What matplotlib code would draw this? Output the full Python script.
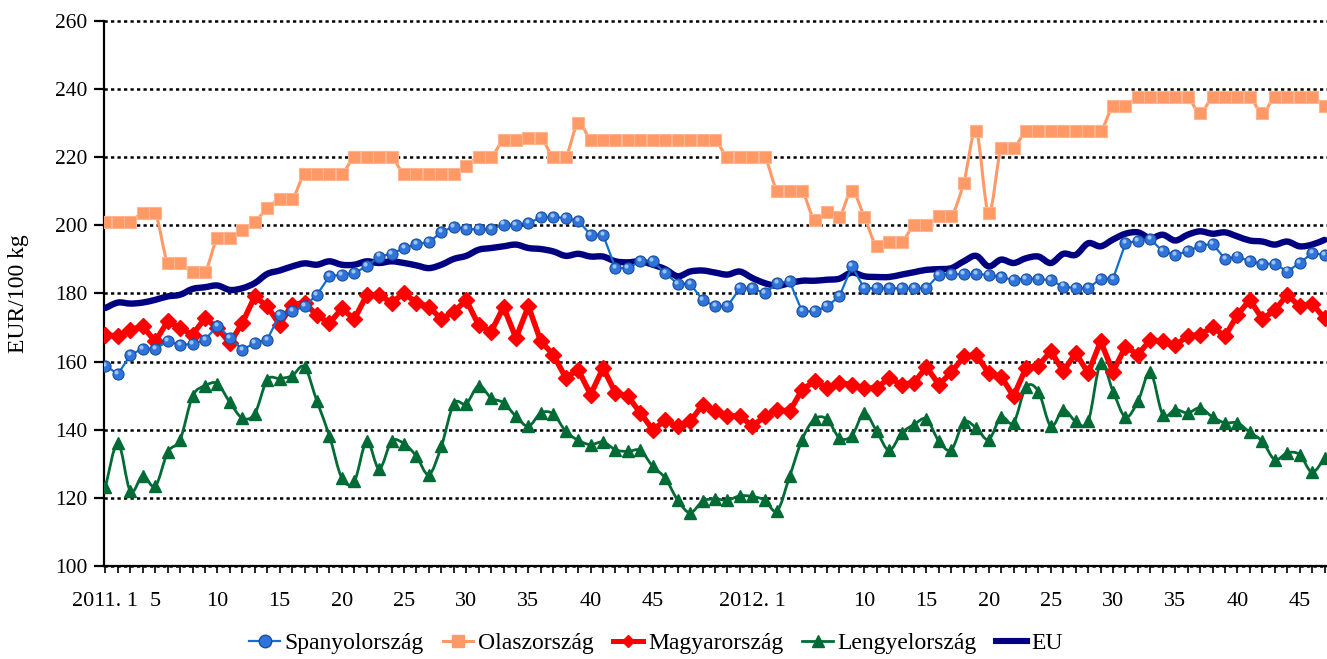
import numpy as np
import matplotlib
matplotlib.use("Agg")
import matplotlib.pyplot as plt
from matplotlib.path import Path
from matplotlib.patches import PathPatch
from matplotlib.lines import Line2D

plt.rcParams['font.family'] = ['Liberation Serif', 'DejaVu Serif']

# ---- data -------------------------------------------------------------
weeks_2011 = list(range(1, 53))
weeks_2012 = list(range(1, 48))
categories = [f"2011. {w}" if w == 1 else str(w) for w in weeks_2011] + \
             [f"2012. {w}" if w == 1 else str(w) for w in weeks_2012]
shown_2011 = [1, 5, 10, 15, 20, 25, 30, 35, 40, 45]
shown_2012 = [1, 10, 15, 20, 25, 30, 35, 40, 45]

spanyol = [158.8, 156.3, 161.9, 163.8, 163.8, 165.9, 164.9, 165.1, 166.4, 170.5,
           167.0, 163.5, 165.4, 166.4, 173.7, 174.7, 176.2, 179.6, 185.0, 185.5,
           186.0, 187.9, 190.8, 191.6, 193.3, 194.4, 195.0, 198.0, 199.6, 198.8,
           198.8, 198.8, 200.2, 200.1, 200.6, 202.3, 202.4, 202.1, 201.3, 197.2,
           197.2, 187.4, 187.4, 189.4, 189.4, 185.9, 182.8, 182.8, 178.1, 176.2,
           176.2, 181.5, 181.5, 180.0, 183.0, 183.5, 174.7, 174.7, 176.2, 179.1,
           187.9, 181.5, 181.5, 181.5, 181.5, 181.5, 181.5, 185.5, 185.6, 185.6,
           185.6, 185.5, 184.7, 184.0, 184.3, 184.3, 183.8, 182.0, 181.5, 181.5,
           184.3, 184.3, 194.7, 195.4, 195.9, 192.3, 191.3, 192.3, 194.0, 194.5,
           190.1, 190.8, 189.4, 188.7, 188.7, 186.4, 188.9, 191.8, 191.3]

olasz = [201.0, 201.0, 201.0, 203.7, 203.7, 188.9, 188.9, 186.2, 186.2, 196.2,
         196.2, 198.6, 201.0, 204.9, 207.6, 207.6, 215.0, 215.0, 215.0, 215.0,
         220.0, 220.0, 220.0, 220.0, 215.0, 215.0, 215.0, 215.0, 215.0, 217.4,
         220.0, 220.0, 225.0, 225.0, 225.7, 225.7, 220.0, 220.0, 230.0, 225.0,
         225.0, 225.0, 225.0, 225.0, 225.0, 225.0, 225.0, 225.0, 225.0, 225.0,
         220.0, 220.0, 220.0, 220.0, 210.0, 210.0, 210.0, 201.6, 203.8, 202.5,
         210.0, 202.5, 193.8, 195.0, 195.0, 200.0, 200.0, 202.6, 202.6, 212.5,
         227.5, 203.5, 222.6, 222.6, 227.5, 227.5, 227.5, 227.5, 227.5, 227.5,
         227.5, 235.0, 235.0, 237.6, 237.6, 237.6, 237.6, 237.6, 232.9, 237.6,
         237.6, 237.6, 237.6, 232.9, 237.6, 237.6, 237.6, 237.6, 235.0]

magyar = [167.9, 167.4, 169.3, 170.3, 165.9, 171.8, 169.8, 167.9, 172.7, 169.8,
          165.4, 171.3, 179.1, 176.2, 170.8, 176.7, 177.2, 173.6, 171.2, 175.6,
          172.4, 179.5, 179.5, 177.3, 180.0, 177.3, 176.1, 172.4, 174.6, 178.0,
          170.7, 168.7, 176.0, 166.9, 176.2, 165.9, 162.0, 155.2, 157.6, 150.3,
          158.1, 150.8, 149.8, 144.9, 140.0, 142.7, 141.0, 142.4, 147.3, 145.6,
          143.9, 144.1, 141.0, 143.9, 145.9, 145.4, 151.7, 154.2, 152.2, 153.7,
          153.2, 152.2, 152.2, 155.2, 153.2, 153.8, 158.4, 153.2, 156.8, 161.5,
          162.0, 156.6, 155.6, 149.8, 158.1, 158.8, 163.0, 157.1, 162.5, 156.6,
          165.9, 157.0, 164.4, 162.0, 166.4, 165.9, 164.7, 167.5, 167.9, 170.1,
          167.4, 173.7, 178.1, 172.5, 175.0, 179.6, 176.2, 177.0, 172.7]

lengyel = [123.2, 136.1, 121.9, 126.5, 123.4, 133.4, 137.1, 149.8, 152.9, 153.5,
           148.0, 143.4, 144.7, 154.6, 155.0, 155.8, 158.4, 148.3, 138.2, 125.8,
           124.8, 136.6, 128.5, 136.6, 135.9, 132.2, 126.8, 135.1, 147.6, 147.6,
           152.9, 149.3, 147.9, 143.9, 141.0, 144.9, 144.6, 139.5, 136.9, 135.6,
           136.4, 134.1, 133.6, 133.9, 129.2, 125.8, 119.3, 115.6, 119.0, 119.7,
           119.3, 120.6, 120.4, 119.3, 116.2, 126.3, 137.1, 143.1, 143.1, 137.6,
           138.2, 144.9, 139.5, 133.9, 139.0, 141.5, 143.1, 136.6, 134.1, 142.2,
           140.5, 137.1, 143.7, 142.0, 152.5, 151.2, 141.0, 145.9, 142.4, 142.4,
           159.5, 151.2, 143.7, 148.3, 156.8, 144.4, 145.9, 144.9, 146.4, 143.7,
           142.0, 142.0, 139.2, 136.6, 131.2, 133.2, 132.7, 127.5, 131.7]

eu = [175.7, 177.3, 177.0, 177.3, 178.1, 179.1, 179.6, 181.3, 181.8, 182.3,
      181.0, 181.5, 183.0, 185.7, 186.7, 187.9, 188.8, 188.4, 189.4, 188.4,
      188.4, 189.4, 188.9, 189.4, 188.9, 188.2, 187.4, 188.4, 190.1, 191.0,
      192.8, 193.3, 193.8, 194.3, 193.3, 193.0, 192.3, 191.0, 191.6, 190.8,
      190.8, 189.4, 189.1, 189.4, 188.4, 187.1, 185.0, 186.4, 186.7, 186.1,
      185.5, 186.4, 184.5, 183.0, 182.2, 183.0, 183.7, 183.7, 184.0, 184.3,
      186.1, 185.0, 184.8, 184.8, 185.5, 186.2, 186.9, 187.1, 187.4, 189.4,
      191.0, 187.9, 189.9, 188.9, 190.3, 190.8, 188.9, 191.6, 191.3, 194.7,
      193.8, 195.8, 197.5, 197.9, 196.2, 197.2, 195.5, 197.2, 198.2, 197.5,
      197.9, 196.7, 195.5, 195.2, 194.3, 195.2, 193.8, 194.3, 195.7]

series_names = ["Spanyolország", "Olaszország", "Magyarország", "Lengyelország", "EU"]

# ---- helpers -----------------------------------------------------------
def smooth_path(x, y):
    pts = np.column_stack([x, y]).astype(float)
    n = len(pts)
    verts = [pts[0]]
    codes = [Path.MOVETO]
    for i in range(n - 1):
        p0 = pts[i - 1] if i > 0 else pts[i]
        p1 = pts[i]
        p2 = pts[i + 1]
        p3 = pts[i + 2] if i + 2 < n else pts[i + 1]
        verts += [p1 + (p2 - p0) / 6.0, p2 - (p3 - p1) / 6.0, p2]
        codes += [Path.CURVE4] * 3
    return Path(verts, codes)

# ---- figure -------------------------------------------------------------
fig = plt.figure(figsize=(13.27, 6.59), dpi=100)
ax = fig.add_axes([104 / 1327, 1 - 566 / 659, 1 - 104 / 1327, (566 - 20.7) / 659])

x = np.arange(len(categories))

# EU (smooth, thick navy)
ax.add_patch(PathPatch(smooth_path(x, eu), fill=False, edgecolor='#000080', lw=4.6,
                       capstyle='round', joinstyle='round', zorder=3))
# Lengyelország (smooth)
ax.add_patch(PathPatch(smooth_path(x, lengyel), fill=False, edgecolor='#006B35', lw=2.0,
                       capstyle='round', joinstyle='round', zorder=4))
ax.plot(x, lengyel, linestyle='none', marker='^', markersize=8,
        markerfacecolor='#006B35', markeredgecolor='#006B35', zorder=4.1)
# Olaszország (smooth)
ax.add_patch(PathPatch(smooth_path(x, olasz), fill=False, edgecolor='#FF9966', lw=2.2,
                       capstyle='round', joinstyle='round', zorder=4))
ax.plot(x, olasz, linestyle='none', marker='s', markersize=8.5,
        markerfacecolor='#FF9966', markeredgecolor='#FFB690', markeredgewidth=0.8, zorder=4.1)
# Magyarország
ax.plot(x, magyar, color='#FF0000', lw=4.0, marker='D', markersize=8,
        markerfacecolor='#FF0000', markeredgecolor='#FF0000', zorder=5,
        solid_joinstyle='miter')
# Spanyolország
ax.plot(x, spanyol, color='#1170CF', lw=1.6, zorder=6)
ax.plot(x, spanyol, linestyle='none', marker='o', markersize=8,
        markerfacecolor='#2E74DA', markeredgecolor='#1B4E9E', markeredgewidth=0.8, zorder=6.1)
ax.plot(x - 0.12, np.array(spanyol) + 0.6, linestyle='none', marker='o', markersize=3,
        markerfacecolor='#9CC3F5', markeredgecolor='none', zorder=6.2)

# axes styling
ax.set_xlim(-0.12, 98.2)
ax.set_ylim(100, 260)
ax.set_yticks(np.arange(100, 261, 20))
ax.yaxis.grid(True, color='black', linestyle=(0, (1.3, 1.3)), linewidth=1.8)
ax.set_axisbelow(True)
for gl in ax.get_ygridlines():
    gl.set_clip_on(False)

for s in ['top', 'right']:
    ax.spines[s].set_visible(False)
for s in ['left', 'bottom']:
    ax.spines[s].set_linewidth(1.6)
    ax.spines[s].set_color('black')

shown = set([i for i, w in enumerate(weeks_2011) if w in shown_2011] +
            [len(weeks_2011) + i for i, w in enumerate(weeks_2012) if w in shown_2012])
ax.set_xticks(x)
ax.set_xticklabels([c if i in shown else '' for i, c in enumerate(categories)])
ax.tick_params(axis='x', direction='out', length=5, width=1.2, pad=14, labelsize=16)
ax.tick_params(axis='y', direction='out', length=7, width=1.6, pad=5, labelsize=15.5)

ax.set_ylabel("EUR/100 kg", fontsize=17)
ax.yaxis.set_label_coords((29 - 104) / 1223, 0.5)

handles = [
    Line2D([], [], color='#1170CF', lw=1.6, marker='o', markersize=9,
           markerfacecolor='#2E74DA', markeredgecolor='#1B4E9E'),
    Line2D([], [], color='#FF9966', lw=2.2, marker='s', markersize=8,
           markerfacecolor='#FF9966', markeredgecolor='#FF9966'),
    Line2D([], [], color='#FF0000', lw=3.6, marker='D', markersize=6.5,
           markerfacecolor='#FF0000', markeredgecolor='#FF0000'),
    Line2D([], [], color='#006B35', lw=2.0, marker='^', markersize=8,
           markerfacecolor='#006B35', markeredgecolor='#006B35'),
    Line2D([], [], color='#000080', lw=4.4),
]
fig.legend(handles, series_names, loc='center', bbox_to_anchor=(656 / 1327, 1 - 643 / 659),
           ncol=5, frameon=False, fontsize=17, handlelength=1.3, handletextpad=0.2,
           columnspacing=0.8, borderaxespad=0)

fig.savefig("out.png", dpi=100)
